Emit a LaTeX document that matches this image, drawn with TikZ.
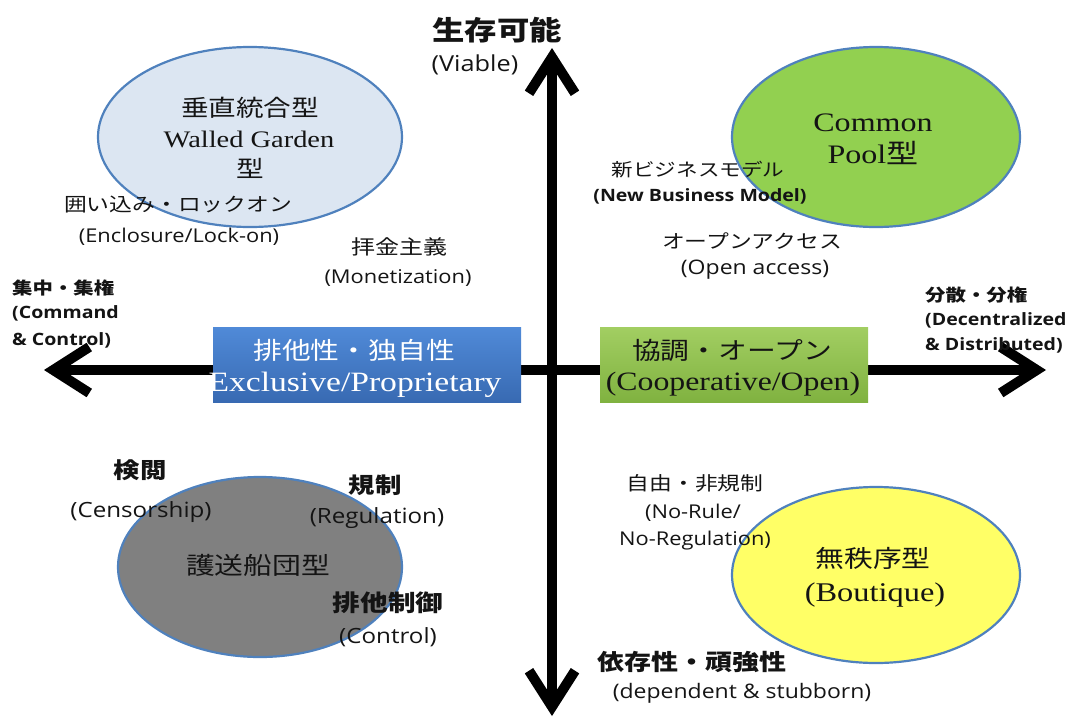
\documentclass[tikz,border=0pt]{standalone}
\usepackage{fontspec}
\usetikzlibrary{arrows.meta,shapes.geometric}
\newfontfamily\jp[FakeStretch=1.2]{Noto Sans CJK JP}
\newfontfamily\lat[FakeStretch=1.15]{Open Sans}
\newfontfamily\ser[FakeStretch=1.2]{Liberation Serif}
\newcommand\fsz[1]{\fontsize{#1}{#1}\selectfont}
\definecolor{ebord}{RGB}{79,129,189}
\definecolor{eblue}{RGB}{220,230,242}
\definecolor{egreen}{RGB}{146,208,80}
\definecolor{egrey}{RGB}{128,128,128}
\definecolor{eyellow}{RGB}{255,255,102}
\definecolor{btop}{RGB}{80,138,216}
\definecolor{bbot}{RGB}{56,106,178}
\definecolor{gtop}{RGB}{162,206,98}
\definecolor{gbot}{RGB}{128,178,64}
\definecolor{txt}{RGB}{20,20,20}
\begin{document}
\begin{tikzpicture}[x=1pt,y=-1pt,
  quad/.style={ellipse,draw=ebord,line width=2.2pt,inner sep=0pt},
  axis/.style={line width=10pt,{Straight Barb[length=36pt,width=46pt]}-{Straight Barb[length=36pt,width=46pt]}},
  lbl/.style={inner sep=0pt,text=txt,align=center},
  jl/.style={lbl,font=\jp\fsz{#1}},
  jb/.style={lbl,font=\jp\bfseries\fsz{#1}},
  ll/.style={lbl,font=\lat\fsz{#1}},
  lb/.style={lbl,font=\lat\bfseries\fsz{#1}},
  sl/.style={lbl,font=\ser\fsz{#1}},
  bx/.style={rectangle,inner sep=0pt,minimum height=75pt}]
\useasboundingbox (0,0) rectangle (1072,718);
% ellipses
\node[quad,fill=eblue,minimum width=304pt,minimum height=180pt] (wg) at (250,137) {};
\node[quad,fill=egreen,minimum width=288pt,minimum height=180pt] (cp) at (876,137) {};
\node[quad,fill=egrey,minimum width=284pt,minimum height=180pt] (gs) at (260,567) {};
\node[quad,fill=eyellow,minimum width=288pt,minimum height=176pt] (bt) at (876,575) {};
% axes
\coordinate (top) at (552,48);
\coordinate (bot) at (552,716);
\coordinate (lft) at (44,370);
\coordinate (rgt) at (1046,370);
\draw[axis] (bot) -- (top);
\draw[axis] (lft) -- (rgt);
% boxes
\node[bx,minimum width=308pt,top color=btop,bottom color=bbot] (ex) at (367,364.5) {};
\node[bx,minimum width=268pt,top color=gtop,bottom color=gbot] (co) at (734,364.5) {};
% texts
\node[jb=27] (t1) at (497,30) {生存可能};
\node[ll=22] (t2) at (475,65) {(Viable)};
\node[jl=23] (t3) at (250,108) {垂直統合型};
\node[sl=23.7] (t4) at (249,139) {Walled Garden};
\node[jl=23] (t5) at (250,168) {型};
\node[jl=19] (t6) at (178,205) {囲い込み・ロックオン};
\node[ll=19] (t7) at (179,237) {(Enclosure/Lock-on)};
\node[jl=20] (t8) at (399,247) {拝金主義};
\node[ll=19] (t9) at (398,278) {(Monetization)};
\node[jb=17,anchor=west] (t10) at (12,288) {集中・集権};
\node[lb=17,anchor=west] (t11) at (12,313) {(Command};
\node[lb=17,anchor=west] (t12) at (12,340) {\& Control)};
\node[jl=24,text=white] (t13) at (354,350) {排他性・独自性};
\node[sl=28,text=white] (t14) at (355,385) {Exclusive/Proprietary};
\node[jl=24] (t15) at (732,350) {協調・オープン};
\node[sl=26.5] (t16) at (733,384) {(Cooperative/Open)};
\node[sl=26.7] (t17) at (873,123) {Common};
\node[sl=26.7] (t18) at (873,153) {Pool{\jp 型}};
\node[jl=18] (t19) at (698,170) {新ビジネスモデル};
\node[lb=17] (t20) at (700,196) {(New Business Model)};
\node[jl=19] (t21) at (752,241) {オープンアクセス};
\node[ll=20] (t22) at (755,270) {(Open access)};
\node[jb=17,anchor=west] (t23) at (925,295) {分散・分権};
\node[lb=17,anchor=west] (t24) at (925,320) {(Decentralized};
\node[lb=17,anchor=west] (t25) at (925,345) {\& Distributed)};
\node[jb=22] (t26) at (140,470) {検閲};
\node[ll=21] (t27) at (141,512) {(Censorship)};
\node[jb=22] (t28) at (375,485) {規制};
\node[ll=21] (t29) at (377,518) {(Regulation)};
\node[jl=24] (t30) at (258,565) {護送船団型};
\node[jb=23] (t31) at (388,603) {排他制御};
\node[ll=21] (t32) at (388,637) {(Control)};
\node[jl=19] (t33) at (695,483) {自由・非規制};
\node[ll=19] (t34) at (693,513) {(No-Rule/};
\node[ll=19] (t35) at (695,541) {No-Regulation)};
\node[jl=24] (t36) at (873,558) {無秩序型};
\node[sl=27] (t37) at (875,595) {(Boutique)};
\node[jb=22.5] (t38) at (692,662) {依存性・頑強性};
\node[ll=20] (t39) at (742,693) {(dependent \& stubborn)};
\end{tikzpicture}
\end{document}
